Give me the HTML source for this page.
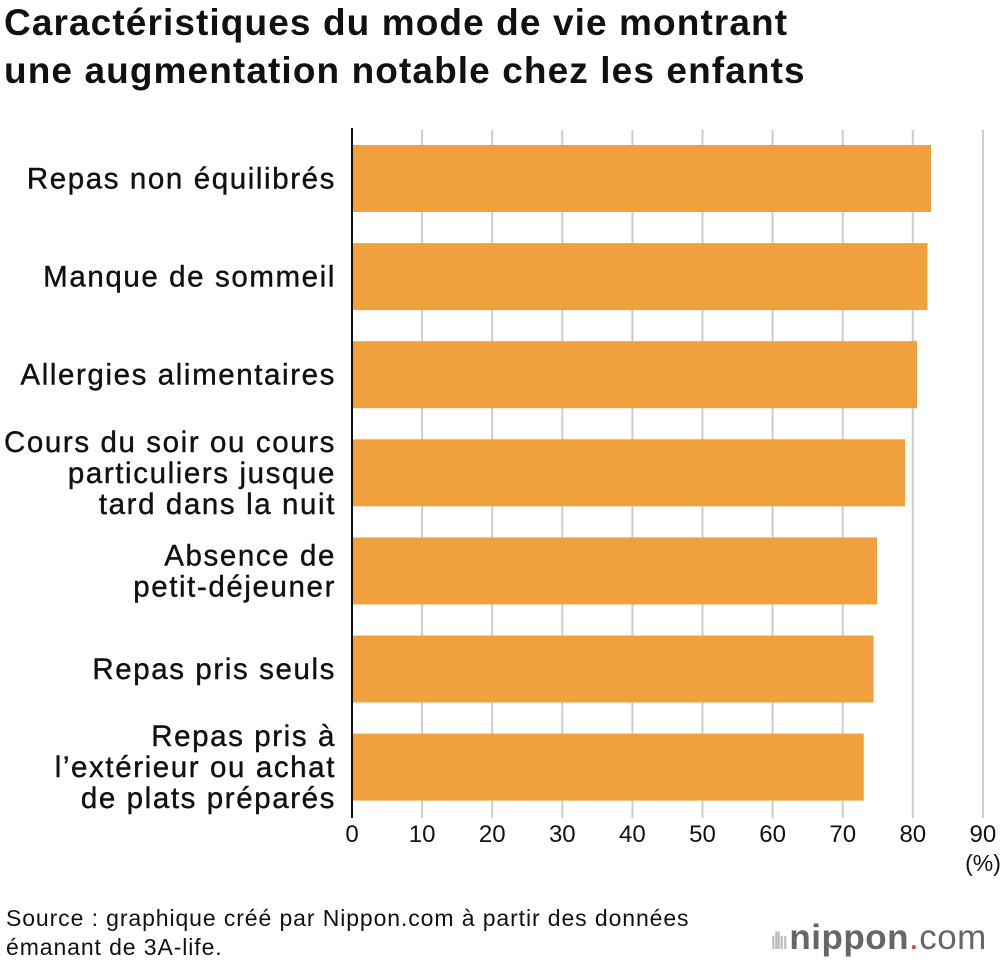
<!DOCTYPE html>
<html><head><meta charset="utf-8"><style>
body{margin:0;background:#fff;font-family:"Liberation Sans",sans-serif;}
#wrap{position:relative;width:1000px;height:964px;overflow:hidden}
h1{position:absolute;left:4px;top:-1px;margin:0;font-size:37px;line-height:48px;font-weight:bold;color:#111;letter-spacing:1.1px;white-space:nowrap}
.src{position:absolute;left:6px;top:904px;font-size:23px;line-height:29px;color:#111;letter-spacing:0.9px;white-space:nowrap}
.logo{position:absolute;left:770px;top:918px;font-size:35px;color:#666;letter-spacing:0.5px;white-space:nowrap}
</style></head><body>
<div id="wrap">
<h1>Caractéristiques du mode de vie montrant<br>une augmentation notable chez les enfants</h1>
<svg id="chart" width="1000" height="900" style="position:absolute;left:0;top:0"></svg>
<div class="src">Source : graphique créé par Nippon.com à partir des données<br>émanant de 3A-life.</div>
<div class="logo"><span style="color:#bbb;font-size:24px;letter-spacing:-3px">ıllıı </span><b>nippon</b><span style="color:#e33">.</span>com</div>
</div>
<script>
const categories=[["Repas non équilibrés"],["Manque de sommeil"],["Allergies alimentaires"],["Cours du soir ou cours","particuliers jusque","tard dans la nuit"],["Absence de","petit-déjeuner"],["Repas pris seuls"],["Repas pris à","l’extérieur ou achat","de plats préparés"]];
const values=[82.6,82.1,80.6,78.9,74.9,74.4,73.0];
const ticks=[0,10,20,30,40,50,60,70,80,90];
const svg=document.getElementById('chart');
const NS='http://www.w3.org/2000/svg';
const x=v=>352+v*7.01;
const y=i=>145+i*98.1;
function mk(t,a){const e=document.createElementNS(NS,t);for(const k in a)e.setAttribute(k,a[k]);svg.appendChild(e);return e;}
ticks.forEach(t=>{
 if(t>0){const g=mk('line',{x1:x(t),x2:x(t),y1:130,y2:818,stroke:'#ccc','stroke-width':2});
 
 }
 const l=mk('text',{x:x(t),y:842,'text-anchor':'middle','font-size':24,fill:'#111'});l.textContent=t;
 
 
});
const pc=mk('text',{x:983,y:871,'text-anchor':'middle','font-size':23,fill:'#111'});pc.textContent='(%)';


values.forEach((v,i)=>{
 const r=mk('rect',{x:x(0),y:y(i),width:x(v)-x(0),height:67,fill:'#f0a03c'});
 
 
 const lines=categories[i];const cy=y(i)+33.5;
 lines.forEach((s,j)=>{
  const t=mk('text',{x:336,y:cy+(j-(lines.length-1)/2)*31+10,'text-anchor':'end','font-size':29.5,'letter-spacing':1.6,fill:'#111',stroke:'#111','stroke-width':0.4});t.textContent=s;
  
  
 });
});
const ax=mk('line',{x1:352,x2:352,y1:128,y2:818,stroke:'#111','stroke-width':2});


</script>
</body></html>
